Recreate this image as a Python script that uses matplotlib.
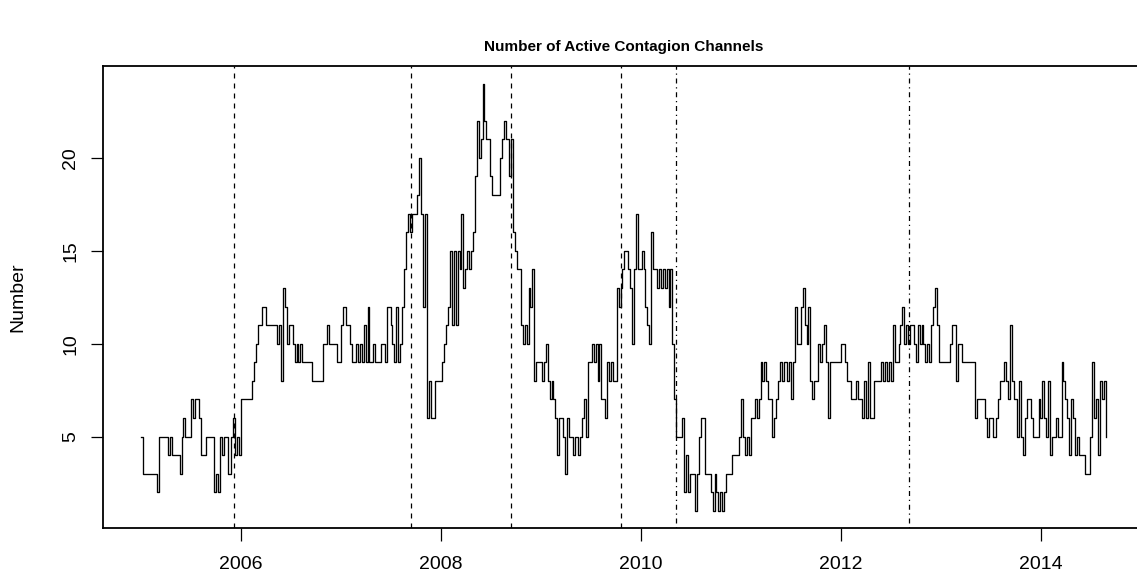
import matplotlib
matplotlib.use("Agg")
import matplotlib.pyplot as plt
import matplotlib.dates as mdates
import pandas as pd

plt.rcParams['font.family'] = ['Liberation Sans', 'DejaVu Sans']
plt.rcParams['lines.scale_dashes'] = False

# weekly count of active contagion channels, one list per calendar year
ch_2005 = [5, 3, 3, 3, 3, 3, 3, 3, 2, 5, 5, 5, 5, 5, 4, 5, 4, 4, 4, 4, 3, 5, 6, 5, 5, 5,
           7, 6, 7, 7, 6, 4, 4, 4, 5, 5, 5, 5, 2, 3, 2, 5, 4, 5, 5, 3, 3, 5, 6, 4, 5, 4]
ch_2006 = [7, 7, 7, 7, 7, 7, 8, 9, 10, 11, 11, 12, 12, 11, 11, 11, 11, 11, 11, 10, 11, 8, 13, 12, 10, 11,
           11, 10, 9, 10, 9, 10, 9, 9, 9, 9, 9, 8, 8, 8, 8, 8, 8, 10, 10, 11, 10, 10, 10, 10, 9, 9]
ch_2007 = [11, 12, 12, 11, 11, 10, 9, 9, 10, 9, 10, 9, 11, 9, 12, 9, 9, 10, 9, 9, 9, 10, 10, 9, 12, 12,
           11, 10, 9, 12, 9, 10, 12, 14, 16, 17, 16, 17, 17, 17, 18, 20, 17, 12, 17, 6, 8, 6, 6, 8, 8, 8]
ch_2008 = [8, 9, 10, 11, 12, 15, 11, 15, 11, 15, 14, 17, 13, 14, 15, 14, 15, 16, 19, 22, 20, 21, 24, 22, 21, 21,
           19, 18, 18, 18, 18, 20, 21, 22, 21, 21, 19, 21, 16, 15, 14, 14, 11, 10, 11, 10, 13, 12, 14, 8, 9, 9]
ch_2009 = [9, 8, 9, 10, 8, 7, 8, 7, 6, 4, 6, 6, 5, 3, 6, 5, 5, 4, 5, 5, 4, 5, 6, 7, 5, 9,
           9, 10, 9, 10, 8, 10, 7, 7, 6, 9, 8, 9, 8, 8, 13, 12, 13, 14, 15, 15, 14, 13, 10, 14, 17, 14]
ch_2010 = [14, 15, 14, 12, 11, 10, 16, 14, 14, 13, 14, 13, 14, 13, 14, 12, 14, 10, 7, 5, 5, 5, 6, 2, 4, 2,
           3, 3, 3, 1, 3, 5, 6, 6, 3, 3, 3, 2, 1, 3, 2, 1, 2, 1, 2, 3, 3, 3, 4, 4, 4, 4]
ch_2011 = [5, 7, 5, 4, 5, 4, 6, 6, 7, 6, 7, 9, 8, 9, 8, 7, 7, 5, 6, 7, 8, 9, 8, 9, 9, 8,
           9, 7, 9, 12, 10, 10, 12, 13, 11, 10, 12, 8, 7, 8, 8, 10, 9, 10, 11, 9, 6, 9, 9, 9, 9, 9]
ch_2012 = [9, 10, 10, 9, 8, 8, 7, 7, 7, 8, 7, 7, 6, 8, 6, 9, 6, 6, 8, 8, 8, 8, 9, 8, 9, 8,
           9, 8, 11, 9, 9, 10, 11, 12, 10, 11, 10, 11, 11, 10, 9, 11, 10, 11, 10, 9, 10, 9, 11, 12, 13, 11]
ch_2013 = [9, 9, 9, 9, 9, 9, 10, 11, 11, 8, 10, 10, 9, 9, 9, 9, 9, 9, 9, 6, 7, 7, 7, 7, 6, 5,
           6, 6, 5, 5, 6, 7, 8, 8, 9, 8, 7, 11, 8, 7, 7, 5, 8, 5, 4, 6, 7, 7, 6, 5, 5, 5]
ch_2014 = [7, 6, 8, 6, 5, 8, 4, 5, 5, 6, 5, 5, 9, 8, 7, 6, 4, 7, 6, 4, 5, 4, 4, 4, 3, 3,
           3, 5, 9, 6, 7, 4, 8, 7, 8, 5]

channels = (ch_2005 + ch_2006 + ch_2007 + ch_2008 + ch_2009 + ch_2010
            + ch_2011 + ch_2012 + ch_2013 + ch_2014)
weeks = pd.date_range('2005-01-03', periods=len(channels), freq='7D')

# crisis events marked with vertical lines
event_dates = ['2005-12-06', '2007-09-14', '2008-09-15', '2009-10-20', '2010-05-10', '2012-09-06']
event_styles = ['dashed', 'dashed', 'dashed', 'dashed', 'dotdash', 'dotdash']
dash_patterns = {'dashed': (3.6, 3.6), 'dotdash': (0.9, 2.7, 3.6, 2.7)}

W, H = 1137, 577
fig = plt.figure(figsize=(W / 100, H / 100), dpi=100)
ax_top, ax_bottom = 66.5, 528
ax = fig.add_axes([102.7 / W, (H - ax_bottom) / H, 1041.5 / W, (ax_bottom - ax_top) / H])

x = mdates.date2num(weeks)
ax.plot(x, channels, drawstyle='steps-post', color='black', lw=0.95)

for d, style in zip(event_dates, event_styles):
    ax.axvline(mdates.datestr2num(d), color='black', lw=0.9, dashes=dash_patterns[style])

# R style 4% padding around the data range
xspan = x[-1] - x[0]
ax.set_xlim(x[0] - 0.04 * xspan, x[-1] + 0.04 * xspan)
yspan = max(channels) - min(channels)
ax.set_ylim(min(channels) - 0.04 * yspan, max(channels) + 0.04 * yspan)

ax.xaxis.set_major_locator(mdates.YearLocator(2))
ax.xaxis.set_major_formatter(mdates.DateFormatter('%Y'))
ax.set_yticks([5, 10, 15, 20])

ax.tick_params(axis='both', direction='out', length=9, width=0.9, labelsize=14, colors='black')
ax.tick_params(axis='x', pad=11)
ax.tick_params(axis='y', pad=8)
for lab in ax.get_yticklabels():
    lab.set_rotation(90)
    lab.set_va('center')

for side in ['top', 'bottom', 'left', 'right']:
    ax.spines[side].set_linewidth(1.3)

fig.text(17.5 / W, 1 - (ax_top + ax_bottom) / 2 / H, 'Number', rotation=90,
         ha='center', va='center', fontsize=14)
fig.text(623.5 / W, 1 - 47 / H, 'Number of Active Contagion Channels',
         ha='center', va='center', fontsize=11, fontweight='bold')

fig.savefig('out.png', dpi=100)
